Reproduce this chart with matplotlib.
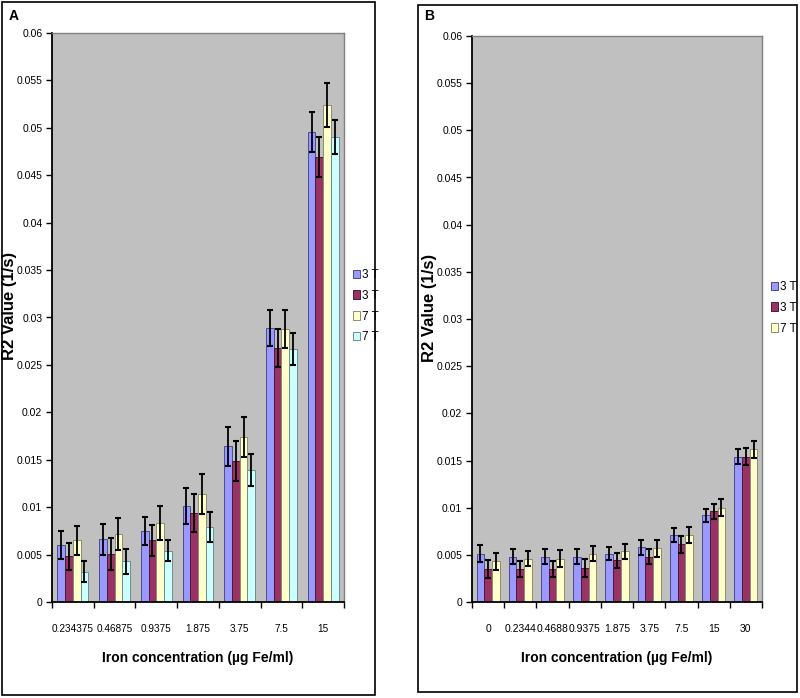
import matplotlib
matplotlib.use("Agg")
import matplotlib.pyplot as plt
import numpy as np
from matplotlib.patches import Rectangle
from matplotlib.ticker import FuncFormatter, MultipleLocator

plt.rcParams['font.family'] = ['Liberation Sans', 'DejaVu Sans']

# ---- Panel A data ----
cats_a = ["0.234375", "0.46875", "0.9375", "1.875", "3.75", "7.5", "15"]
labels_a = ["3 T", "3 T", "7 T", "7 T"]
a_blue = [0.0060, 0.0066, 0.0075, 0.0101, 0.0164, 0.0289, 0.0496]
a_maroon = [0.0048, 0.0051, 0.0065, 0.0094, 0.0149, 0.0268, 0.0469]
a_yellow = [0.0065, 0.0072, 0.0083, 0.0114, 0.0174, 0.0288, 0.0524]
a_cyan = [0.0032, 0.0043, 0.0054, 0.0079, 0.0139, 0.0267, 0.0490]
a_blue_err = [0.0015, 0.0016, 0.0015, 0.0019, 0.0021, 0.0019, 0.0021]
a_maroon_err = [0.0014, 0.0017, 0.0016, 0.0020, 0.0021, 0.0020, 0.0021]
a_yellow_err = [0.0015, 0.0017, 0.0018, 0.0021, 0.0021, 0.0020, 0.0023]
a_cyan_err = [0.0011, 0.0013, 0.0011, 0.0016, 0.0017, 0.0017, 0.0018]

# ---- Panel B data ----
cats_b = ["0", "0.2344", "0.4688", "0.9375", "1.875", "3.75", "7.5", "15", "30"]
labels_b = ["3 T", "3 T", "7 T"]
b_blue = [0.0051, 0.0048, 0.0048, 0.0048, 0.0051, 0.0058, 0.0071, 0.0092, 0.0154]
b_maroon = [0.0035, 0.0035, 0.0035, 0.0036, 0.0044, 0.0048, 0.0061, 0.0096, 0.0154]
b_yellow = [0.0043, 0.0046, 0.0046, 0.0051, 0.0054, 0.0057, 0.0071, 0.0100, 0.0162]
b_blue_err = [0.0009, 0.0008, 0.0008, 0.0008, 0.0007, 0.0008, 0.0007, 0.0007, 0.0008]
b_maroon_err = [0.0010, 0.0008, 0.0008, 0.0010, 0.0008, 0.0008, 0.0009, 0.0008, 0.0009]
b_yellow_err = [0.0009, 0.0008, 0.0009, 0.0008, 0.0008, 0.0009, 0.0008, 0.0009, 0.0009]

colors = ["#9999FF", "#993366", "#FFFFCC", "#CCFFFF"]
edgecols = ["#4B4B8C", "#4A1A33", "#8C8C70", "#6F8C8C"]

fig = plt.figure(figsize=(8.0, 6.98), dpi=100)

# panel frames
fig.patches.append(Rectangle((2/800, 1-695/698), 373/800, 693/698, transform=fig.transFigure,
                             fill=False, edgecolor='black', linewidth=1.2))
fig.patches.append(Rectangle((418/800, 1-692/698), 379/800, 687/698, transform=fig.transFigure,
                             fill=False, edgecolor='black', linewidth=1.2))


def draw_panel(ax, cats, series, errs, labels, group_w, ylab_x, xtick_size):
    n = len(series)
    x = np.arange(len(cats))
    bw = group_w / n
    for i, (vals, err) in enumerate(zip(series, errs)):
        pos = x - group_w / 2 + bw * (i + 0.5)
        ax.bar(pos, vals, width=bw, color=colors[i], edgecolor=edgecols[i],
               linewidth=0.7, label=labels[i], zorder=2)
        ax.errorbar(pos, vals, yerr=err, fmt='none', ecolor='black',
                    elinewidth=1.3, capsize=2.5, capthick=1.5, zorder=3)
    ax.set_facecolor('#C0C0C0')
    ax.set_xlim(-0.5, len(cats) - 0.5)
    ax.set_ylim(0, 0.06)
    ax.yaxis.set_major_locator(MultipleLocator(0.005))
    ax.yaxis.set_major_formatter(FuncFormatter(lambda v, p: f"{round(v, 4):g}"))
    ax.set_xticks(x)
    ax.set_xticklabels(cats)
    ax.set_xticks(np.arange(len(cats) + 1) - 0.5, minor=True)
    ax.tick_params(axis='x', which='major', length=0, pad=16, labelsize=xtick_size)
    ax.tick_params(axis='x', which='minor', length=4, width=1, direction='out')
    ax.tick_params(axis='y', which='major', length=4, width=1, direction='out', labelsize=7.5, pad=3)
    for s in ['left', 'bottom']:
        ax.spines[s].set_color('black')
        ax.spines[s].set_linewidth(1.3)
    for s in ['top', 'right']:
        ax.spines[s].set_color('#808080')
        ax.spines[s].set_linewidth(1.0)
    ax.set_xlabel("Iron concentration (\u00b5g Fe/ml)", fontsize=10, fontweight='bold', labelpad=12)
    ax.set_ylabel("R2 Value (1/s)", fontsize=12, fontweight='bold')
    ax.yaxis.set_label_coords(ylab_x, 0.52)
    ax.legend(loc='center left', bbox_to_anchor=(1.005, 0.52), frameon=False,
              handlelength=0.6, handleheight=0.7, handletextpad=0.2,
              labelspacing=0.75, fontsize=8.5, borderaxespad=0.2)


axA = fig.add_axes([52/800, 1-602/698, 292/800, 569/698])
draw_panel(axA, cats_a, [a_blue, a_maroon, a_yellow, a_cyan],
           [a_blue_err, a_maroon_err, a_yellow_err, a_cyan_err], labels_a, 0.74,
           (17.5-52)/292, 7.2)

axB = fig.add_axes([472/800, 1-602/698, 290/800, 566/698])
draw_panel(axB, cats_b, [b_blue, b_maroon, b_yellow],
           [b_blue_err, b_maroon_err, b_yellow_err], labels_b, 0.72,
           (437-472)/290, 7.5)

fig.text(9/800, 1-20/698, "A", fontsize=10, fontweight='bold')
fig.text(424/800, 1-20/698, "B", fontsize=10, fontweight='bold')

fig.savefig("out.png", dpi=100)
